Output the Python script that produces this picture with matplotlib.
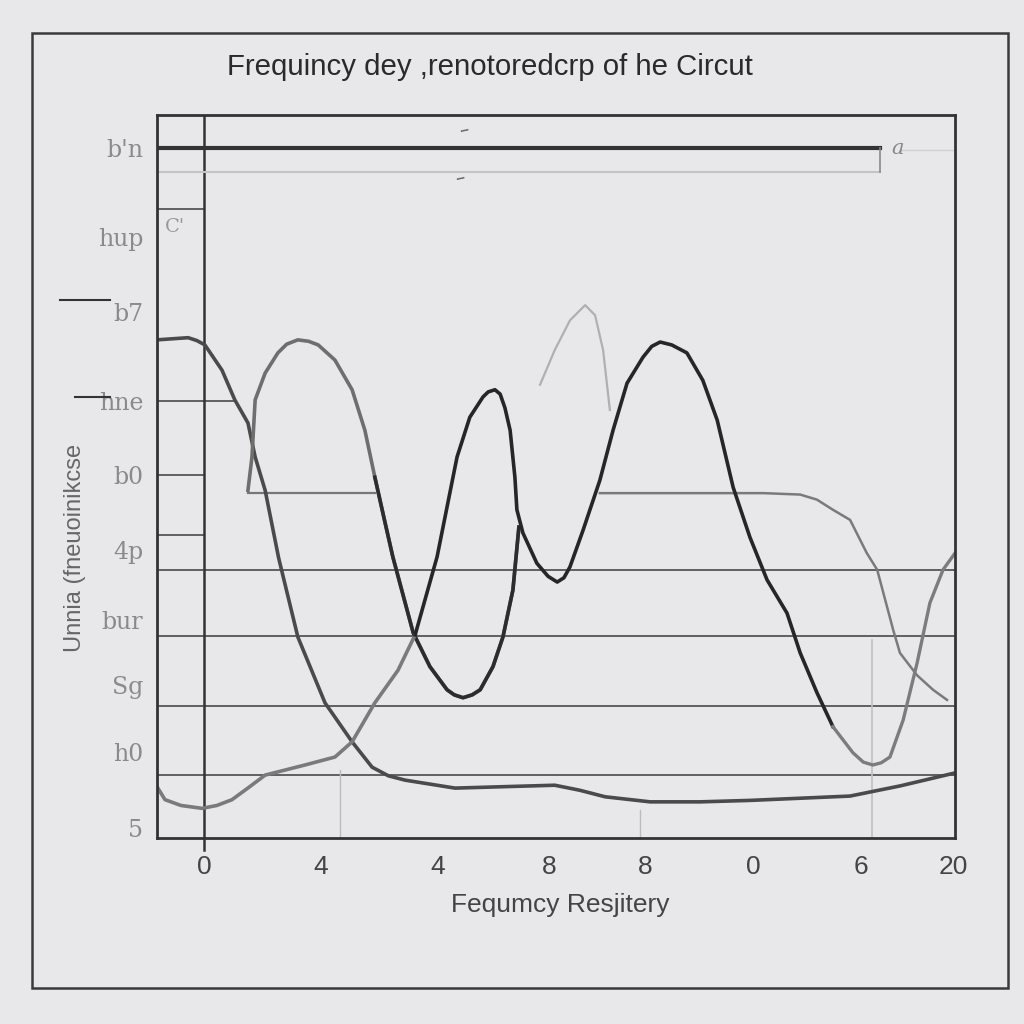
import numpy as np
import matplotlib.pyplot as plt
from matplotlib.patches import Rectangle

# falling curve (dark grey), starts flat at the top left
fall_x = [0, 0.78, 1.00, 1.20, 1.63, 1.95, 2.28, 2.46, 2.71, 3.05, 3.53, 4.21, 4.89, 5.39, 5.80, 6.22, 7.47, 8.70, 9.97, 10.60, 11.23, 12.36, 13.61, 14.86, 16.12, 17.37, 18.62, 20]
fall_y = [6.89, 6.92, 6.88, 6.82, 6.47, 6.06, 5.74, 5.27, 4.81, 3.87, 2.78, 1.87, 1.33, 0.98, 0.86, 0.80, 0.69, 0.71, 0.73, 0.66, 0.57, 0.50, 0.50, 0.52, 0.55, 0.58, 0.72, 0.90]

# long wave: grey rise from bottom left, black through the middle, grey again at right
wave_x = [0, 0.20, 0.60, 1.13, 1.50, 1.88, 2.30, 2.71, 3.71, 4.46, 4.89, 5.46, 6.04, 6.47, 7.02, 7.52, 7.84, 8.17, 8.30, 8.47, 8.60, 8.72, 8.85, 8.97, 9.02, 9.17, 9.52, 9.80, 10.03, 10.20, 10.35, 10.68, 11.10, 11.43, 11.78, 12.18, 12.40, 12.61, 12.90, 13.28, 13.68, 14.04, 14.44, 14.86, 15.29, 15.79, 16.12, 16.54, 16.94, 17.44, 17.70, 17.94, 18.15, 18.37, 18.70, 19.05, 19.37, 19.70, 20]
wave_y = [0.71, 0.53, 0.45, 0.41, 0.45, 0.53, 0.70, 0.87, 1.01, 1.12, 1.33, 1.87, 2.32, 2.81, 3.89, 5.27, 5.82, 6.10, 6.17, 6.20, 6.14, 5.95, 5.64, 4.99, 4.54, 4.22, 3.80, 3.62, 3.54, 3.60, 3.75, 4.26, 4.95, 5.64, 6.29, 6.65, 6.80, 6.86, 6.82, 6.71, 6.33, 5.78, 4.85, 4.16, 3.57, 3.11, 2.56, 2.01, 1.54, 1.18, 1.05, 1.01, 1.04, 1.12, 1.63, 2.42, 3.25, 3.71, 3.94]

# grey hump at left, dips into a black trough
hump_x = [2.28, 2.38, 2.46, 2.71, 3.03, 3.25, 3.53, 3.80, 4.04, 4.46, 4.89, 5.21, 5.46, 5.70, 5.91, 6.42, 6.84, 7.27, 7.45, 7.67, 7.90, 8.10, 8.42, 8.67, 8.92, 9.07]
hump_y = [4.81, 5.27, 6.06, 6.43, 6.71, 6.83, 6.89, 6.87, 6.82, 6.61, 6.20, 5.64, 4.99, 4.40, 3.89, 2.84, 2.37, 2.05, 1.98, 1.94, 1.98, 2.05, 2.37, 2.78, 3.43, 4.30]

# shelf at right that drops down
shelf_x = [11.10, 13.60, 15.20, 16.12, 16.54, 16.94, 17.37, 17.79, 18.05, 18.45, 18.62, 19.05, 19.45, 19.80]
shelf_y = [4.77, 4.77, 4.77, 4.75, 4.68, 4.54, 4.40, 3.94, 3.71, 2.88, 2.56, 2.25, 2.05, 1.91]

# faint spike in the middle
ghost_x = [9.60, 9.97, 10.35, 10.73, 10.98, 11.18, 11.35]
ghost_y = [6.27, 6.75, 7.16, 7.37, 7.23, 6.75, 5.92]

full_grid = [3.71, 2.79, 1.83, 0.87]
short_grid = [8.70, 5.02, 4.19]

ytick_pos = [9.54, 8.31, 7.28, 6.04, 5.02, 3.98, 3.02, 2.12, 1.19, 0.14]
ytick_lab = ["b'n", "hup", "b7", "hne", "b0", "4p", "bur", "Sg", "h0", "5"]
xtick_pos = [1.18, 4.11, 7.04, 9.82, 12.23, 14.94, 17.64, 19.97]
xtick_lab = ["0", "4", "4", "8", "8", "0", "6", "20"]

bg = '#e8e8ea'
fig = plt.figure(figsize=(10.24, 10.24), dpi=100, facecolor=bg)
ax = fig.add_axes([157/1024, 1-838/1024, 798/1024, 723/1024])
ax.set_facecolor(bg)
ax.set_xlim(0, 20)
ax.set_ylim(0, 10)
for s in ax.spines.values():
	s.set_color('#333333')
	s.set_linewidth(2)

fig.add_artist(Rectangle((32/1024, 1-988/1024), 976/1024, 955/1024, transform=fig.transFigure,
	fill=False, ec='#3a3a3a', lw=1.8))

# grid and odd rules
for g in full_grid:
	ax.axhline(g, color='#555555', lw=1.3)
for g in short_grid:
	ax.plot([0, 1.18], [g, g], color='#555555', lw=1.3)
ax.plot([0, 1.95], [6.04, 6.04], color='#555555', lw=1.3)
ax.axvline(1.18, color='#333333', lw=1.8)
ax.plot([0, 18.12], [9.54, 9.54], color='#333333', lw=3)
ax.plot([0, 18.12], [9.21, 9.21], color='#c4c4c4', lw=1.5)
ax.plot([18.12, 18.12], [9.21, 9.54], color='#888888', lw=1.2)
ax.plot([18.6, 20], [9.52, 9.52], color='#d0d0d0', lw=1)
ax.plot([4.59, 4.59], [0, 0.94], color='#bbbbbb', lw=1)
ax.plot([12.11, 12.11], [0, 0.39], color='#bbbbbb', lw=1)
ax.plot([17.92, 17.92], [0, 2.74], color='#c0c0c0', lw=1.2)
ax.plot([1.18, 1.18], [0, -0.17], color='#333333', lw=1.8, clip_on=False)
ax.plot([-2.43, -1.18], [7.44, 7.44], color='#333333', lw=1.5, clip_on=False)
ax.plot([-2.05, -1.18], [6.10, 6.10], color='#333333', lw=1.5, clip_on=False)

# curves
ax.plot([2.28, 5.46], [4.77, 4.77], color='#777777', lw=1.6)
ax.plot(shelf_x, shelf_y, color='#7a7a7a', lw=1.8)
ax.plot(ghost_x, ghost_y, color='#b0b0b0', lw=1.6)
ax.plot(fall_x, fall_y, color='#4a4a4a', lw=2.6)
ax.plot(hump_x, hump_y, color='#6e6e6e', lw=2.6)
ax.plot(hump_x[12:], hump_y[12:], color='#2c2c2c', lw=2.6)
ax.plot(wave_x[:14], wave_y[:14], color='#7a7a7a', lw=2.6)
ax.plot(wave_x[13:49], wave_y[13:49], color='#262626', lw=2.6)
ax.plot(wave_x[48:], wave_y[48:], color='#7c7c7c', lw=2.4)

# ticks
ax.set_yticks(ytick_pos)
ax.set_yticklabels(ytick_lab, family='DejaVu Serif', fontsize=17, color='#8a8a8a')
ax.set_xticks(xtick_pos)
ax.set_xticklabels(xtick_lab, family='Liberation Sans', fontsize=19, color='#444444')
ax.tick_params(length=0, pad=12)
ax.tick_params(axis='y', pad=10)

# stray marks
ax.text(18.4, 9.54, "a", family='DejaVu Serif', style='italic', fontsize=15, color='#888888', va='center')
ax.text(0.2, 8.45, "C'", family='DejaVu Serif', fontsize=14, color='#999999', va='center')
ax.text(7.7, 9.78, "–", fontsize=14, color='#666666', ha='center', va='center', rotation=12)
ax.text(7.6, 9.12, "–", fontsize=14, color='#666666', ha='center', va='center', rotation=12)

fig.text(490/1024, 1-67/1024, "Frequincy dey ,renotoredcrp of he Circut", ha='center', va='center',
	family='Liberation Sans', fontsize=21.2, color='#2a2a2a')
fig.text(560/1024, 1-905/1024, "Fequmcy Resjitery", ha='center', va='center',
	family='Liberation Sans', fontsize=19, color='#444444')
fig.text(75/1024, 1-548/1024, "Unnia (fneuoinikcse", ha='center', va='center', rotation=90,
	family='Liberation Sans', fontsize=17, color='#666666')

fig.savefig('out.png', dpi=100, facecolor=bg)
